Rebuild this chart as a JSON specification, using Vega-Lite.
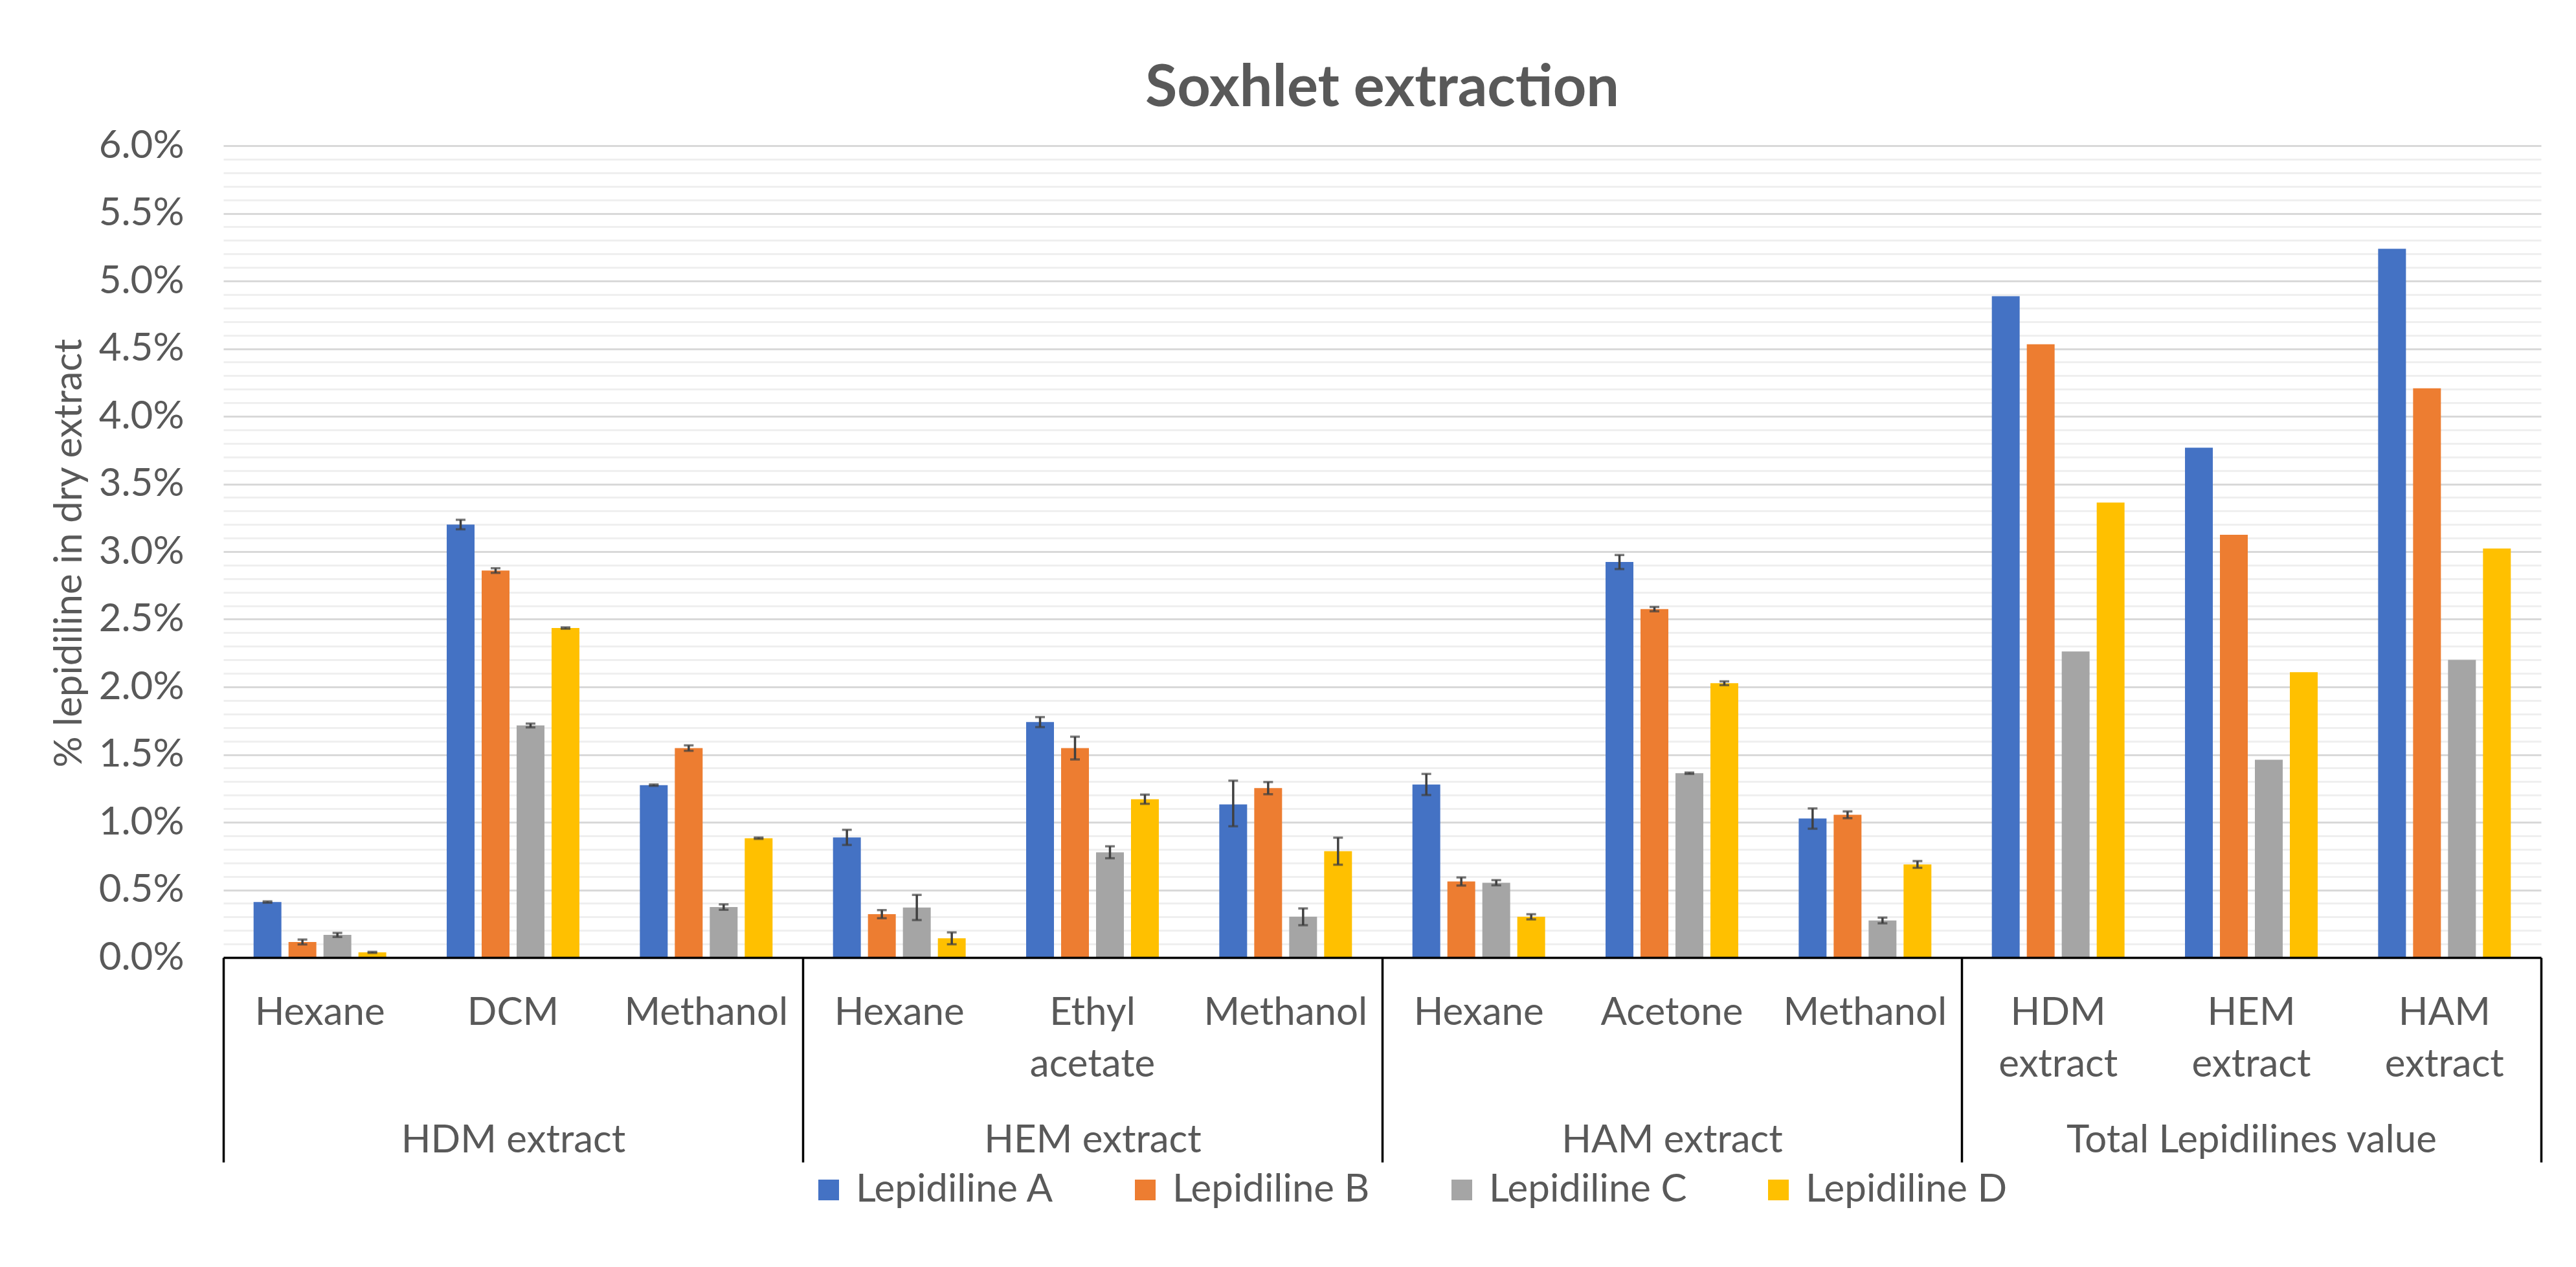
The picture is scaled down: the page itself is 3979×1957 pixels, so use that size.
{
  "$schema": "https://vega.github.io/schema/vega-lite/v6.json",
  "width": 3580,
  "height": 1254,
  "autosize": {"type": "none"},
  "padding": {"left": 345, "top": 225, "right": 54, "bottom": 478},
  "background": "white",
  "config": {"font": "Lato", "view": {"stroke": null}},
  "title": {
    "text": "Soxhlet extraction",
    "font": "Lato",
    "fontSize": 90,
    "fontWeight": "bold",
    "color": "#595959",
    "anchor": "middle",
    "offset": 12
  },
  "datasets": {
    "bars": [
      {"grp": "HDM extract", "key": "HDM extract|Hexane", "series": "Lepidiline A", "v": 0.41, "lo": 0.405, "hi": 0.415},
      {"grp": "HDM extract", "key": "HDM extract|Hexane", "series": "Lepidiline B", "v": 0.115, "lo": 0.097, "hi": 0.133},
      {"grp": "HDM extract", "key": "HDM extract|Hexane", "series": "Lepidiline C", "v": 0.167, "lo": 0.152, "hi": 0.182},
      {"grp": "HDM extract", "key": "HDM extract|Hexane", "series": "Lepidiline D", "v": 0.038, "lo": 0.034, "hi": 0.042},
      {"grp": "HDM extract", "key": "HDM extract|DCM", "series": "Lepidiline A", "v": 3.2, "lo": 3.165, "hi": 3.235},
      {"grp": "HDM extract", "key": "HDM extract|DCM", "series": "Lepidiline B", "v": 2.86, "lo": 2.843, "hi": 2.877},
      {"grp": "HDM extract", "key": "HDM extract|DCM", "series": "Lepidiline C", "v": 1.715, "lo": 1.701, "hi": 1.729},
      {"grp": "HDM extract", "key": "HDM extract|DCM", "series": "Lepidiline D", "v": 2.435, "lo": 2.43, "hi": 2.44},
      {"grp": "HDM extract", "key": "HDM extract|Methanol", "series": "Lepidiline A", "v": 1.274, "lo": 1.269, "hi": 1.279},
      {"grp": "HDM extract", "key": "HDM extract|Methanol", "series": "Lepidiline B", "v": 1.548, "lo": 1.528, "hi": 1.568},
      {"grp": "HDM extract", "key": "HDM extract|Methanol", "series": "Lepidiline C", "v": 0.373, "lo": 0.353, "hi": 0.393},
      {"grp": "HDM extract", "key": "HDM extract|Methanol", "series": "Lepidiline D", "v": 0.882, "lo": 0.877, "hi": 0.887},
      {"grp": "HEM extract", "key": "HEM extract|Hexane", "series": "Lepidiline A", "v": 0.888, "lo": 0.832, "hi": 0.944},
      {"grp": "HEM extract", "key": "HEM extract|Hexane", "series": "Lepidiline B", "v": 0.321, "lo": 0.291, "hi": 0.351},
      {"grp": "HEM extract", "key": "HEM extract|Hexane", "series": "Lepidiline C", "v": 0.37, "lo": 0.277, "hi": 0.463},
      {"grp": "HEM extract", "key": "HEM extract|Hexane", "series": "Lepidiline D", "v": 0.142, "lo": 0.098, "hi": 0.186},
      {"grp": "HEM extract", "key": "HEM extract|Ethyl acetate", "series": "Lepidiline A", "v": 1.74, "lo": 1.703, "hi": 1.777},
      {"grp": "HEM extract", "key": "HEM extract|Ethyl acetate", "series": "Lepidiline B", "v": 1.548, "lo": 1.464, "hi": 1.632},
      {"grp": "HEM extract", "key": "HEM extract|Ethyl acetate", "series": "Lepidiline C", "v": 0.778, "lo": 0.734, "hi": 0.822},
      {"grp": "HEM extract", "key": "HEM extract|Ethyl acetate", "series": "Lepidiline D", "v": 1.17, "lo": 1.136, "hi": 1.204},
      {"grp": "HEM extract", "key": "HEM extract|Methanol", "series": "Lepidiline A", "v": 1.132, "lo": 0.97, "hi": 1.307},
      {"grp": "HEM extract", "key": "HEM extract|Methanol", "series": "Lepidiline B", "v": 1.252, "lo": 1.207, "hi": 1.297},
      {"grp": "HEM extract", "key": "HEM extract|Methanol", "series": "Lepidiline C", "v": 0.301, "lo": 0.239, "hi": 0.363},
      {"grp": "HEM extract", "key": "HEM extract|Methanol", "series": "Lepidiline D", "v": 0.786, "lo": 0.686, "hi": 0.886},
      {"grp": "HAM extract", "key": "HAM extract|Hexane", "series": "Lepidiline A", "v": 1.279, "lo": 1.201, "hi": 1.357},
      {"grp": "HAM extract", "key": "HAM extract|Hexane", "series": "Lepidiline B", "v": 0.562, "lo": 0.532, "hi": 0.592},
      {"grp": "HAM extract", "key": "HAM extract|Hexane", "series": "Lepidiline C", "v": 0.553, "lo": 0.534, "hi": 0.572},
      {"grp": "HAM extract", "key": "HAM extract|Hexane", "series": "Lepidiline D", "v": 0.301, "lo": 0.282, "hi": 0.32},
      {"grp": "HAM extract", "key": "HAM extract|Acetone", "series": "Lepidiline A", "v": 2.923, "lo": 2.871, "hi": 2.975},
      {"grp": "HAM extract", "key": "HAM extract|Acetone", "series": "Lepidiline B", "v": 2.575, "lo": 2.559, "hi": 2.591},
      {"grp": "HAM extract", "key": "HAM extract|Acetone", "series": "Lepidiline C", "v": 1.362, "lo": 1.357, "hi": 1.367},
      {"grp": "HAM extract", "key": "HAM extract|Acetone", "series": "Lepidiline D", "v": 2.027, "lo": 2.013, "hi": 2.041},
      {"grp": "HAM extract", "key": "HAM extract|Methanol", "series": "Lepidiline A", "v": 1.027, "lo": 0.952, "hi": 1.102},
      {"grp": "HAM extract", "key": "HAM extract|Methanol", "series": "Lepidiline B", "v": 1.055, "lo": 1.03, "hi": 1.08},
      {"grp": "HAM extract", "key": "HAM extract|Methanol", "series": "Lepidiline C", "v": 0.274, "lo": 0.253, "hi": 0.295},
      {"grp": "HAM extract", "key": "HAM extract|Methanol", "series": "Lepidiline D", "v": 0.688, "lo": 0.663, "hi": 0.713},
      {"grp": "Total Lepidilines value", "key": "Total|HDM extract", "series": "Lepidiline A", "v": 4.887},
      {"grp": "Total Lepidilines value", "key": "Total|HDM extract", "series": "Lepidiline B", "v": 4.532},
      {"grp": "Total Lepidilines value", "key": "Total|HDM extract", "series": "Lepidiline C", "v": 2.262},
      {"grp": "Total Lepidilines value", "key": "Total|HDM extract", "series": "Lepidiline D", "v": 3.363},
      {"grp": "Total Lepidilines value", "key": "Total|HEM extract", "series": "Lepidiline A", "v": 3.768},
      {"grp": "Total Lepidilines value", "key": "Total|HEM extract", "series": "Lepidiline B", "v": 3.125},
      {"grp": "Total Lepidilines value", "key": "Total|HEM extract", "series": "Lepidiline C", "v": 1.462},
      {"grp": "Total Lepidilines value", "key": "Total|HEM extract", "series": "Lepidiline D", "v": 2.109},
      {"grp": "Total Lepidilines value", "key": "Total|HAM extract", "series": "Lepidiline A", "v": 5.238},
      {"grp": "Total Lepidilines value", "key": "Total|HAM extract", "series": "Lepidiline B", "v": 4.207},
      {"grp": "Total Lepidilines value", "key": "Total|HAM extract", "series": "Lepidiline C", "v": 2.2},
      {"grp": "Total Lepidilines value", "key": "Total|HAM extract", "series": "Lepidiline D", "v": 3.023}
    ]
  },
  "data": {"name": "bars"},
  "layer": [
    {
      "mark": {"type": "bar"},
      "encoding": {
        "x": {
          "field": "key", "type": "nominal", "sort": null,
          "scale": {"paddingInner": 0.313, "paddingOuter": 0.1565},
          "axis": {
            "orient": "bottom",
            "title": null,
            "labelExpr": "split(split(datum.value, '|')[1], ' ')",
            "labelAngle": 0,
            "ticks": false,
            "tickSize": 0,
            "domain": true,
            "domainColor": "#000000",
            "domainWidth": 3.5,
            "zindex": 1,
            "labelFont": "Lato",
            "labelFontSize": 60,
            "labelColor": "#595959",
            "labelPadding": 56,
            "labelLineHeight": 80,
            "labelBaseline": "top",
            "labelLimit": 0,
            "labelOverlap": false
          }
        },
        "xOffset": {
          "field": "series", "type": "nominal",
          "scale": {"paddingInner": 0.204, "paddingOuter": 0}
        },
        "y": {
          "field": "v", "type": "quantitative",
          "scale": {"domain": [0, 6], "nice": false},
          "axis": {
            "orient": "left",
            "values": [0, 0.5, 1, 1.5, 2, 2.5, 3, 3.5, 4, 4.5, 5, 5.5, 6],
            "labelExpr": "format(datum.value, '.1f') + '%'",
            "grid": true,
            "gridColor": "#D9D9D9",
            "gridWidth": 3,
            "domain": false,
            "ticks": false,
            "labelPadding": 61,
            "labelFont": "Lato",
            "labelFontSize": 60,
            "labelColor": "#595959",
            "title": "% lepidiline in dry extract",
            "titleFont": "Lato",
            "titleFontSize": 60,
            "titleFontWeight": "normal",
            "titleColor": "#595959",
            "titleX": -238,
            "titleY": 629,
            "titleBaseline": "middle",
            "titleAlign": "center"
          }
        },
        "color": {
          "field": "series", "type": "nominal",
          "scale": {"range": ["#4472C4", "#ED7D31", "#A5A5A5", "#FFC000"]},
          "legend": {
            "orient": "none",
            "legendX": 905,
            "legendY": 1583,
            "direction": "horizontal",
            "columns": 4,
            "title": null,
            "symbolType": "square",
            "symbolSize": 1024,
            "symbolStrokeWidth": 0,
            "labelFont": "Lato",
            "labelFontSize": 60,
            "labelColor": "#595959",
            "labelOffset": 12,
            "labelLimit": 0,
            "columnPadding": 105,
            "gridAlign": "all"
          }
        }
      }
    },
    {
      "transform": [{"filter": "isValid(datum.lo)"}],
      "mark": {"type": "rule", "color": "#404040", "strokeWidth": 3.5},
      "encoding": {
        "x": {
          "field": "key", "type": "nominal", "sort": null, "axis": null,
          "scale": {
            "domain": ["HDM extract|Hexane", "HDM extract|DCM", "HDM extract|Methanol", "HEM extract|Hexane", "HEM extract|Ethyl acetate", "HEM extract|Methanol", "HAM extract|Hexane", "HAM extract|Acetone", "HAM extract|Methanol", "Total|HDM extract", "Total|HEM extract", "Total|HAM extract"],
            "paddingInner": 0.313, "paddingOuter": 0.1565
          }
        },
        "xOffset": {"field": "series", "type": "nominal"},
        "y": {"field": "lo", "type": "quantitative", "axis": null},
        "y2": {"field": "hi"}
      }
    },
    {
      "transform": [{"filter": "isValid(datum.lo)"}],
      "mark": {"type": "tick", "orient": "horizontal", "color": "#404040", "size": 15, "thickness": 3.5},
      "encoding": {
        "x": {
          "field": "key", "type": "nominal", "sort": null, "axis": null,
          "scale": {
            "domain": ["HDM extract|Hexane", "HDM extract|DCM", "HDM extract|Methanol", "HEM extract|Hexane", "HEM extract|Ethyl acetate", "HEM extract|Methanol", "HAM extract|Hexane", "HAM extract|Acetone", "HAM extract|Methanol", "Total|HDM extract", "Total|HEM extract", "Total|HAM extract"],
            "paddingInner": 0.313, "paddingOuter": 0.1565
          }
        },
        "xOffset": {"field": "series", "type": "nominal"},
        "y": {"field": "lo", "type": "quantitative", "axis": null}
      }
    },
    {
      "transform": [{"filter": "isValid(datum.hi)"}],
      "mark": {"type": "tick", "orient": "horizontal", "color": "#404040", "size": 15, "thickness": 3.5},
      "encoding": {
        "x": {
          "field": "key", "type": "nominal", "sort": null, "axis": null,
          "scale": {
            "domain": ["HDM extract|Hexane", "HDM extract|DCM", "HDM extract|Methanol", "HEM extract|Hexane", "HEM extract|Ethyl acetate", "HEM extract|Methanol", "HAM extract|Hexane", "HAM extract|Acetone", "HAM extract|Methanol", "Total|HDM extract", "Total|HEM extract", "Total|HAM extract"],
            "paddingInner": 0.313, "paddingOuter": 0.1565
          }
        },
        "xOffset": {"field": "series", "type": "nominal"},
        "y": {"field": "hi", "type": "quantitative", "axis": null}
      }
    },
    {
      "mark": {"type": "point", "opacity": 0},
      "encoding": {
        "x": {
          "field": "grp", "type": "nominal", "sort": null,
          "scale": {"type": "band", "paddingInner": 0, "paddingOuter": 0},
          "axis": {
            "orient": "bottom",
            "title": null,
            "tickBand": "extent",
            "ticks": true,
            "tickSize": 316,
            "tickWidth": 3.5,
            "tickColor": "#000000",
            "domain": false,
            "grid": false,
            "labelAngle": 0,
            "labelFont": "Lato",
            "labelFontSize": 60,
            "labelColor": "#595959",
            "labelPadding": -63,
            "labelBaseline": "top",
            "labelLimit": 0,
            "labelOverlap": false
          }
        },
        "y": {
          "datum": 0, "type": "quantitative",
          "scale": {"domain": [0, 6], "nice": false},
          "axis": {
            "orient": "left",
            "values": [0.1, 0.2, 0.3, 0.4, 0.6, 0.7, 0.8, 0.9, 1.1, 1.2, 1.3, 1.4, 1.6, 1.7, 1.8, 1.9, 2.1, 2.2, 2.3, 2.4, 2.6, 2.7, 2.8, 2.9, 3.1, 3.2, 3.3, 3.4, 3.6, 3.7, 3.8, 3.9, 4.1, 4.2, 4.3, 4.4, 4.6, 4.7, 4.8, 4.9, 5.1, 5.2, 5.3, 5.4, 5.6, 5.7, 5.8, 5.9],
            "grid": true,
            "gridColor": "#EFEFEF",
            "gridWidth": 3,
            "labels": false,
            "ticks": false,
            "domain": false,
            "title": null
          }
        }
      }
    }
  ],
  "resolve": {
    "scale": {"x": "independent"},
    "axis": {"x": "independent", "y": "independent"}
  }
}
